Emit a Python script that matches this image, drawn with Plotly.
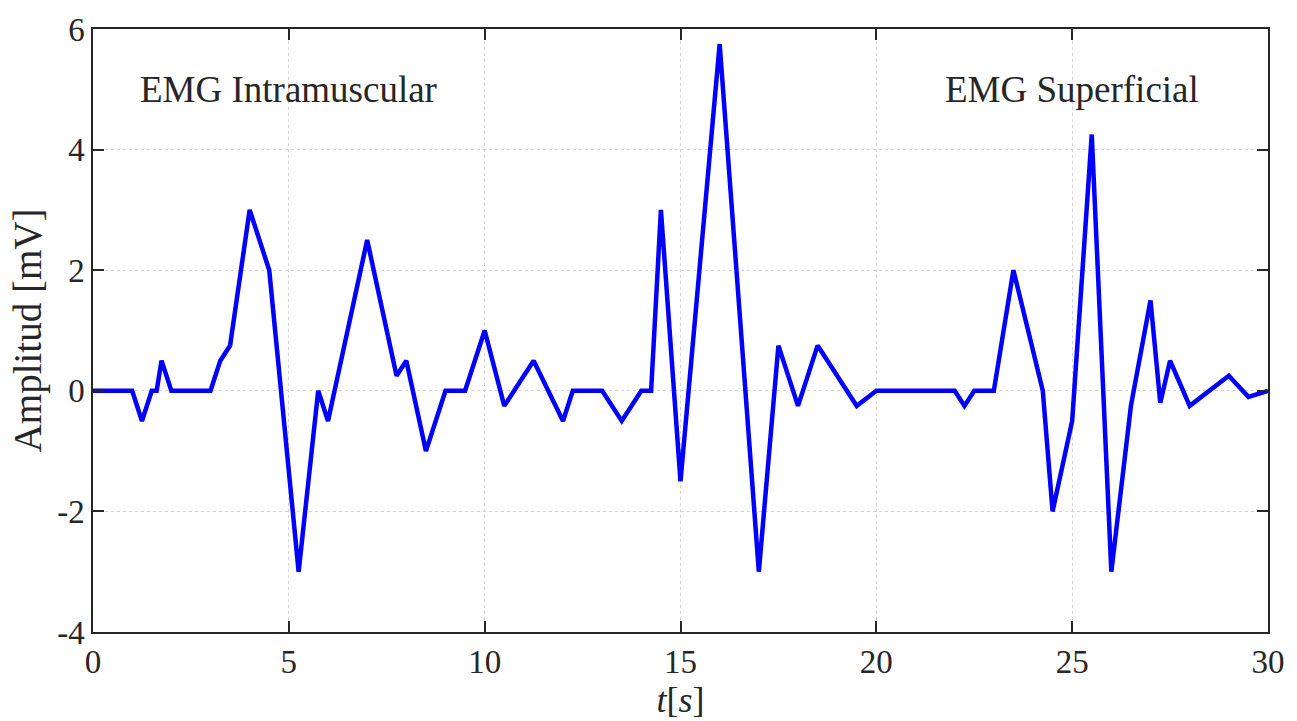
import plotly.graph_objects as go

t = [0, 1, 1.25, 1.5, 1.625, 1.75, 2, 3, 3.25, 3.5, 4, 4.5, 5.25, 5.75, 6, 7,
     7.75, 8, 8.5, 9, 9.5, 10, 10.5, 11.25, 12, 12.25, 13, 13.5, 14, 14.25,
     14.5, 15, 16, 17, 17.5, 18, 18.5, 19.5, 20, 22, 22.25, 22.5, 23, 23.5,
     24.25, 24.5, 25, 25.5, 26, 26.5, 27, 27.25, 27.5, 28, 29, 29.5, 30]
amp = [0, 0, -0.5, 0, 0, 0.5, 0, 0, 0.5, 0.75, 3, 2, -3, 0, -0.5, 2.5,
       0.25, 0.5, -1, 0, 0, 1, -0.25, 0.5, -0.5, 0, 0, -0.5, 0, 0,
       3, -1.5, 5.75, -3, 0.75, -0.25, 0.75, -0.25, 0, 0, -0.25, 0, 0, 2,
       0, -2, -0.5, 4.25, -3, -0.25, 1.5, -0.2, 0.5, -0.25, 0.25, -0.1, 0]

x_ticks = [0, 5, 10, 15, 20, 25, 30]
x_ticktext = ["0", "5", "10", "15", "20", "25", "30"]
y_ticks = [-4, -2, 0, 2, 4, 6]
y_ticktext = ["-4", "-2", "0", "2", "4", "6"]

labels = ["EMG Intramuscular", "EMG Superficial"]
label_t = [5, 25]
label_y = [5, 5]

FONT = "Liberation Serif"
AXC = "#262626"

fig = go.Figure()
fig.add_trace(go.Scatter(x=t, y=amp, mode="lines",
                         line=dict(color="#0000ff", width=4.5),
                         showlegend=False, hoverinfo="skip"))

for txt, xx, yy in zip(labels, label_t, label_y):
    fig.add_annotation(x=xx, y=yy, text=txt, showarrow=False,
                       font=dict(family=FONT, size=37, color=AXC))

axis_common = dict(showline=True, linecolor=AXC, linewidth=1.5, mirror="ticks",
                   ticks="inside", ticklen=11, tickwidth=1.5, tickcolor=AXC,
                   showgrid=True, gridcolor="#d4d4d4", griddash="dot", gridwidth=1,
                   zeroline=False, tickfont=dict(family=FONT, size=33, color=AXC))

fig.update_xaxes(range=[0, 30], tickvals=x_ticks, ticktext=x_ticktext,
                 title=dict(text="<i>t</i>[<i>s</i>]", font=dict(family=FONT, size=36, color=AXC), standoff=2),
                 **axis_common)
fig.update_yaxes(range=[-4, 6], tickvals=y_ticks, ticktext=y_ticktext,
                 title=dict(text="Amplitud [mV]", font=dict(family=FONT, size=39, color=AXC), standoff=4),
                 **axis_common)

fig.update_layout(width=1297, height=721,
                  margin=dict(l=93, r=27, t=28, b=89),
                  plot_bgcolor="white", paper_bgcolor="white")

fig.write_html("out.html")
